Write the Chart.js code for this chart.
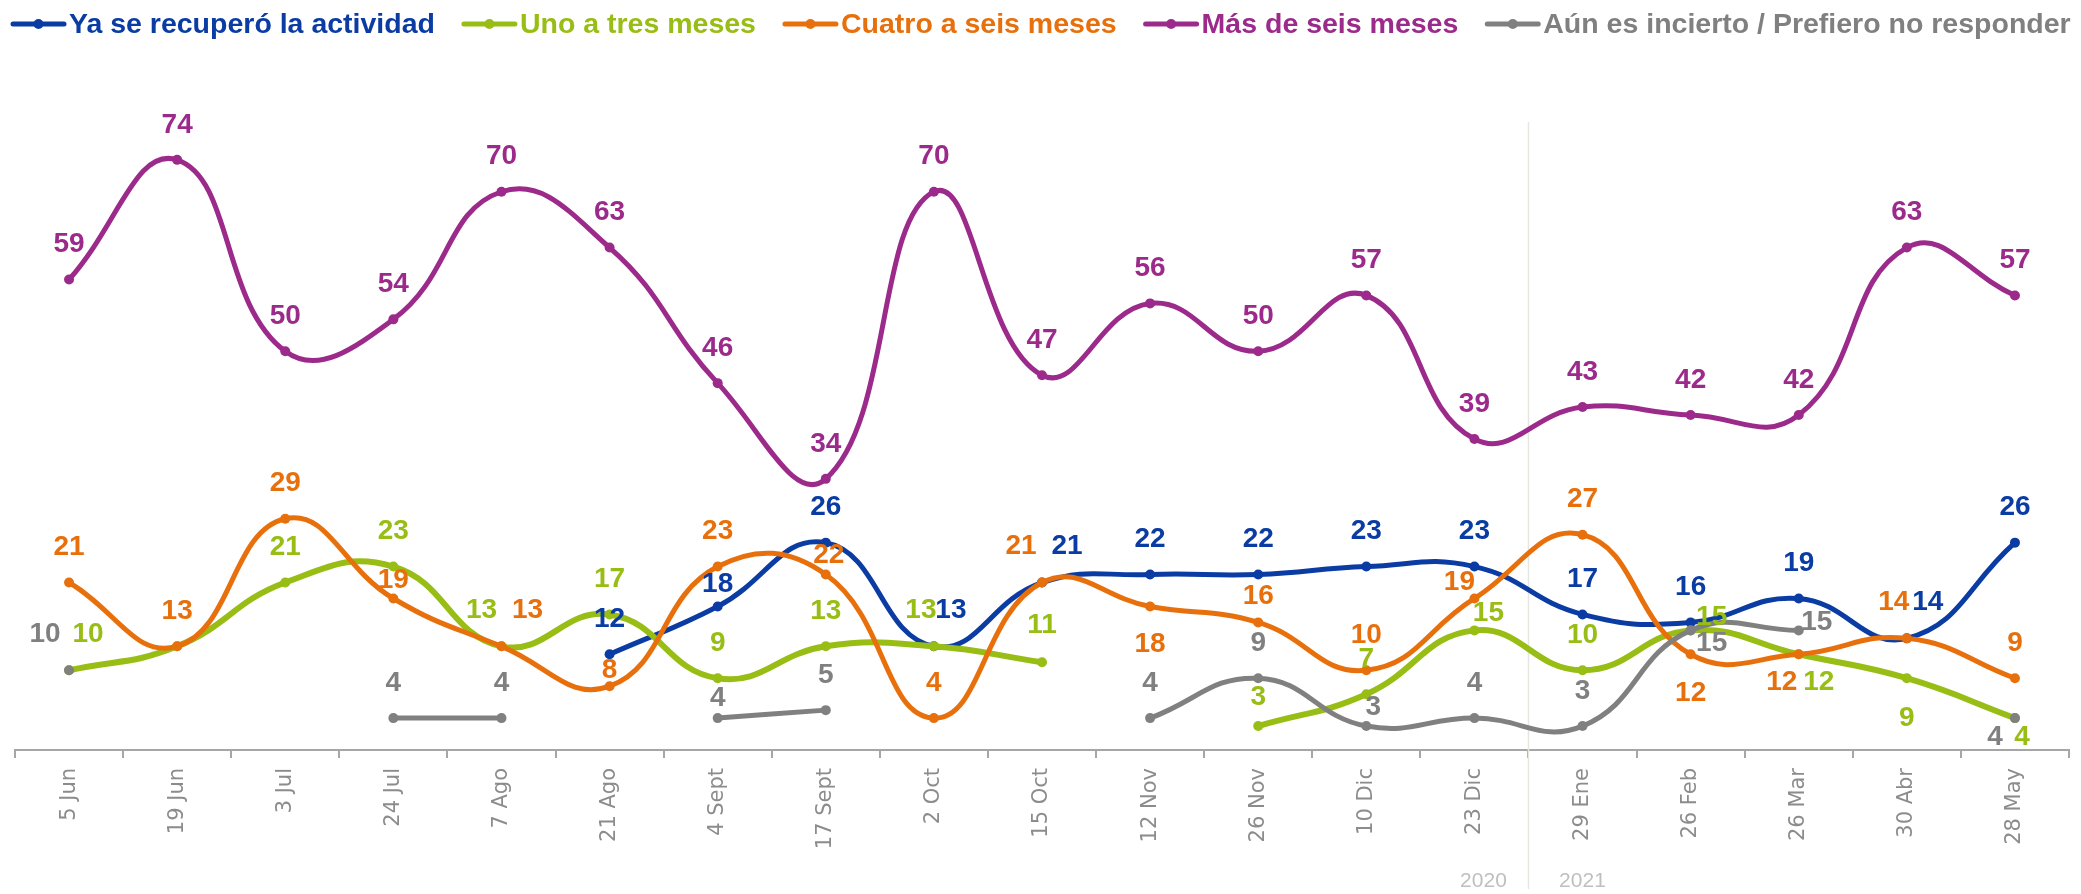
<!DOCTYPE html>
<html>
<head>
<meta charset="utf-8">
<script src="https://cdn.jsdelivr.net/npm/chart.js@4.4.0/dist/chart.umd.min.js"></script>
<style>
  html, body { margin: 0; padding: 0; background: #fff; }
</style>
</head>
<body>
<canvas id="grafico" width="2081" height="894"></canvas>
<script>
// Fechas de la encuesta
var fechas = ['5 Jun', '19 Jun', '3 Jul', '24 Jul', '7 Ago', '21 Ago', '4 Sept', '17 Sept', '2 Oct', '15 Oct',
              '12 Nov', '26 Nov', '10 Dic', '23 Dic', '29 Ene', '26 Feb', '26 Mar', '30 Abr', '28 May'];
var anios = ['2020', '2021'];

// Valores de cada serie (%)
var yaRecupero  = [null, null, null, null, null, 12, 18, 26, 13, 21, 22, 22, 23, 23, 17, 16, 19, 14, 26];
var unoATres    = [10, 13, 21, 23, 13, 17, 9, 13, 13, 11, null, 3, 7, 15, 10, 15, 12, 9, 4];
var cuatroASeis = [21, 13, 29, 19, 13, 8, 23, 22, 4, 21, 18, 16, 10, 19, 27, 12, 12, 14, 9];
var masDeSeis   = [59, 74, 50, 54, 70, 63, 46, 34, 70, 47, 56, 50, 57, 39, 43, 42, 42, 63, 57];
var incierto    = [10, null, null, 4, 4, null, 4, 5, null, null, 4, 9, 3, 4, 3, 15, 15, null, 4];

// Posición de las etiquetas respecto al punto (dx, dy); null = sin etiqueta
var A = [0, -35];
var B = [0, 38];
var posAzul    = [A, A, A, A, A, A, [0, -22], A, [17, -36], [25, -36], A, A, A, A, A, A, A, [21, -36], A];
var posVerde   = [[19, -36], null, A, A, [-20, -36], A, A, A, [-13, -36], [0, -37], A, [0, -29], A, [14, -17],
                  A, [21, -13], [20, 28], [0, 40], [7, 19]];
var posNaranja = [A, A, A, [0, -18], [26, -36], [0, -16], A, [3, -19], A, [-21, -36], B, [0, -26], A, [-15, -16],
                  A, [0, 39], [-17, 28], [-13, -36], A];
var posMorado  = [A, A, A, A, A, A, A, A, A, A, A, A, A, A, A, A, A, A, A];
var posGris    = [[-24, -36], A, A, A, A, A, [0, -20], A, A, A, A, A, [7, -19], A, A, [21, 13], [18, -8], A, [-20, 19]];

var colores = {
    azul: '#0a3ca3',
    verde: '#98bd14',
    naranja: '#e8700c',
    morado: '#9c2a8b',
    gris: '#808080'
};

function serie(label, data, color, pos, orden, grosor) {
    return {
        label: label,
        data: data,
        borderColor: color,
        backgroundColor: color,
        pointBackgroundColor: color,
        pointBorderWidth: 0,
        pointRadius: 5,
        borderWidth: grosor,
        tension: 0.45,
        spanGaps: false,
        order: orden,
        etiquetas: pos
    };
}

// Etiquetas de datos
var etiquetasDatos = {
    id: 'etiquetasDatos',
    afterDatasetsDraw: function(chart) {
        var ctx = chart.ctx;
        ctx.save();
        ctx.font = 'bold 28px "Liberation Sans", Arial, sans-serif';
        ctx.textAlign = 'center';
        ctx.textBaseline = 'middle';
        chart.data.datasets.forEach(function(ds, i) {
            var meta = chart.getDatasetMeta(i);
            ctx.fillStyle = ds.borderColor;
            meta.data.forEach(function(pt, j) {
                var v = ds.data[j];
                var p = ds.etiquetas[j];
                if (v === null || !p) return;
                ctx.fillText(v, pt.x + p[0], pt.y + p[1]);
            });
        });
        ctx.restore();
    }
};

// Leyenda dibujada a mano
var leyenda = {
    id: 'leyenda',
    afterDraw: function(chart) {
        var ctx = chart.ctx;
        var x = 11, y = 24;
        ctx.save();
        ctx.font = 'bold 28.5px "Liberation Sans", Arial, sans-serif';
        ctx.textBaseline = 'middle';
        chart.data.datasets.forEach(function(ds) {
            ctx.strokeStyle = ds.borderColor;
            ctx.fillStyle = ds.borderColor;
            ctx.lineWidth = 5;
            ctx.lineCap = 'round';
            ctx.beginPath();
            ctx.moveTo(x + 2, y);
            ctx.lineTo(x + 53, y);
            ctx.stroke();
            ctx.beginPath();
            ctx.arc(x + 27.5, y, 5, 0, Math.PI * 2);
            ctx.fill();
            x += 58;
            ctx.fillText(ds.label, x, y + 1);
            x += ctx.measureText(ds.label).width + 27;
        });
        ctx.restore();
    }
};

// Separador 2020 / 2021
var separador = {
    id: 'separador',
    beforeDatasetsDraw: function(chart) {
        var ctx = chart.ctx;
        var xs = chart.scales.x;
        var xm = (xs.getPixelForValue(13) + xs.getPixelForValue(14)) / 2;
        ctx.save();
        ctx.strokeStyle = '#e6e6e0';
        ctx.lineWidth = 1.5;
        ctx.beginPath();
        ctx.moveTo(xm, 122);
        ctx.lineTo(xm, 889);
        ctx.stroke();
        ctx.fillStyle = '#bfbfbf';
        ctx.font = '21px "Liberation Sans", Arial, sans-serif';
        ctx.textAlign = 'center';
        ctx.textBaseline = 'middle';
        ctx.fillText(anios[0], xm - 45, 881);
        ctx.fillText(anios[1], xm + 54, 881);
        ctx.restore();
    }
};

var ctx = document.getElementById('grafico').getContext('2d');
var grafico = new Chart(ctx, {
    type: 'line',
    data: {
        labels: fechas,
        datasets: [
            serie('Ya se recuperó la actividad', yaRecupero, colores.azul, posAzul, 5, 5),
            serie('Uno a tres meses', unoATres, colores.verde, posVerde, 4, 6),
            serie('Cuatro a seis meses', cuatroASeis, colores.naranja, posNaranja, 3, 5),
            serie('Más de seis meses', masDeSeis, colores.morado, posMorado, 2, 5),
            serie('Aún es incierto / Prefiero no responder', incierto, colores.gris, posGris, 1, 5)
        ]
    },
    options: {
        responsive: false,
        animation: false,
        layout: { padding: { top: 112, left: 15, right: 12, bottom: 0 } },
        plugins: {
            legend: { display: false },
            tooltip: { enabled: false }
        },
        scales: {
            x: {
                offset: true,
                grid: {
                    offset: true,
                    drawOnChartArea: false,
                    drawTicks: true,
                    tickLength: 8,
                    color: '#a6a6a6',
                    lineWidth: 2
                },
                border: { display: true, color: '#a6a6a6', width: 2 },
                ticks: {
                    autoSkip: false,
                    maxRotation: 90,
                    minRotation: 90,
                    padding: 10,
                    color: '#8c8c8c',
                    font: { family: '"DejaVu Sans", sans-serif', size: 21 }
                },
                afterFit: function(s) { s.height = 144; }
            },
            y: {
                display: false,
                min: 0,
                max: 80
            }
        }
    },
    plugins: [separador, etiquetasDatos, leyenda]
});
</script>
</body>
</html>
